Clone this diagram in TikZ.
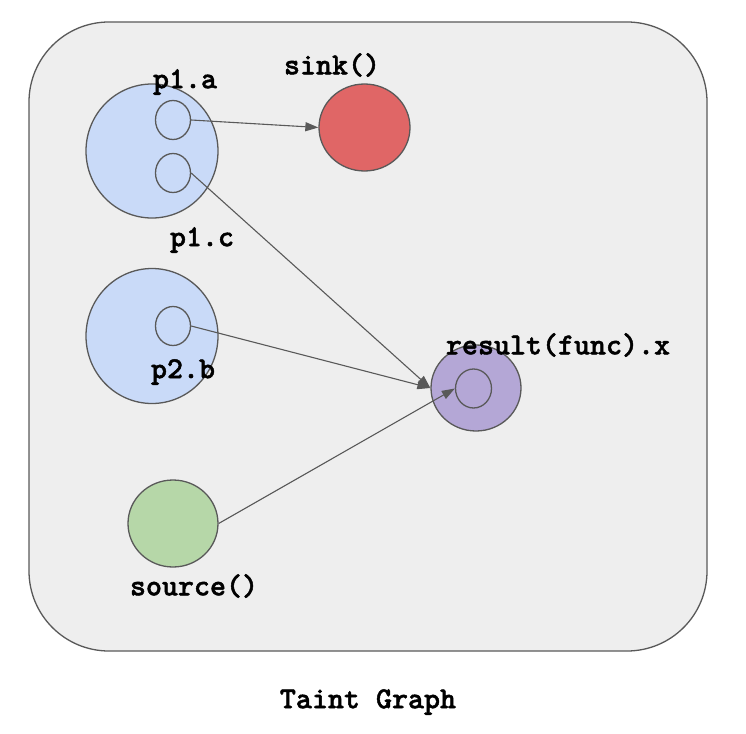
\documentclass[tikz,border=0pt]{standalone}
\usepackage{fontspec}
\newfontfamily\graphfont{lmmonolt10-bold}[Extension=.otf,FakeBold=1.5]
\usetikzlibrary{arrows.meta,shapes.geometric}
\definecolor{framefill}{HTML}{EEEEEE}
\definecolor{linegray}{HTML}{595959}
\definecolor{paramblue}{HTML}{C9DAF8}
\definecolor{sinkred}{HTML}{E06666}
\definecolor{resultviolet}{HTML}{B4A7D6}
\definecolor{sourcegreen}{HTML}{B6D7A8}
\begin{document}
\begin{tikzpicture}[x=1pt,y=-1pt,>={Triangle[length=13pt,width=9pt]},
    blob/.style={draw=linegray,line width=1.3pt,ellipse,inner sep=0pt},
    field/.style={blob,minimum width=35pt,minimum height=39pt},
    lbl/.style={font=\fontsize{30.5}{33}\graphfont,inner sep=0pt},
    flow/.style={->,draw=linegray,line width=1.1pt}]
    \useasboundingbox (0,0) rectangle (746,733);

    \node [draw=linegray,line width=1.3pt,fill=framefill,rounded corners=80pt,
        minimum width=678pt,minimum height=629pt,inner sep=0pt] (frame) at (368,336.5) {};

    % parameters on the left
    \node [blob,fill=paramblue,minimum width=132pt,minimum height=134pt] (p1) at (152,151) {};
    \node [field] (p1a) at (173,120) {};
    \node [field] (p1c) at (173,173) {};
    \node [lbl] (p1alabel) at (185,82) {p1.a};
    \node [lbl] (p1clabel) at (202,240) {p1.c};

    \node [blob,fill=paramblue,minimum width=132pt,minimum height=135pt] (p2) at (152,336) {};
    \node [field] (p2b) at (173,326) {};
    \node [lbl] (p2blabel) at (183,372) {p2.b};

    \node [blob,fill=sourcegreen,minimum width=90pt,minimum height=87pt] (source) at (173,523.5) {};
    \node [lbl] (sourcelabel) at (194,586) {source()};

    % sink and result
    \node [blob,fill=sinkred,minimum width=91pt,minimum height=87pt] (sink) at (364.5,127.5) {};
    \node [lbl] (sinklabel) at (332,65) {sink()};

    \node [blob,fill=resultviolet,minimum width=90pt,minimum height=86pt] (result) at (476,388) {};
    \node [field,minimum width=36pt] (resultx) at (473.5,388.5) {};
    \node [lbl] (resultlabel) at (558,345) {result(func).x};

    \draw [flow] (p1a.east) -- (sink.west);
    \draw [flow] (p1c.east) -- (result.west);
    \draw [flow] (p2b.east) -- (result.west);
    \draw [flow] (source.east) -- (resultx.west);

    \node [lbl] (caption) at (368,702) {Taint Graph};
\end{tikzpicture}
\end{document}
